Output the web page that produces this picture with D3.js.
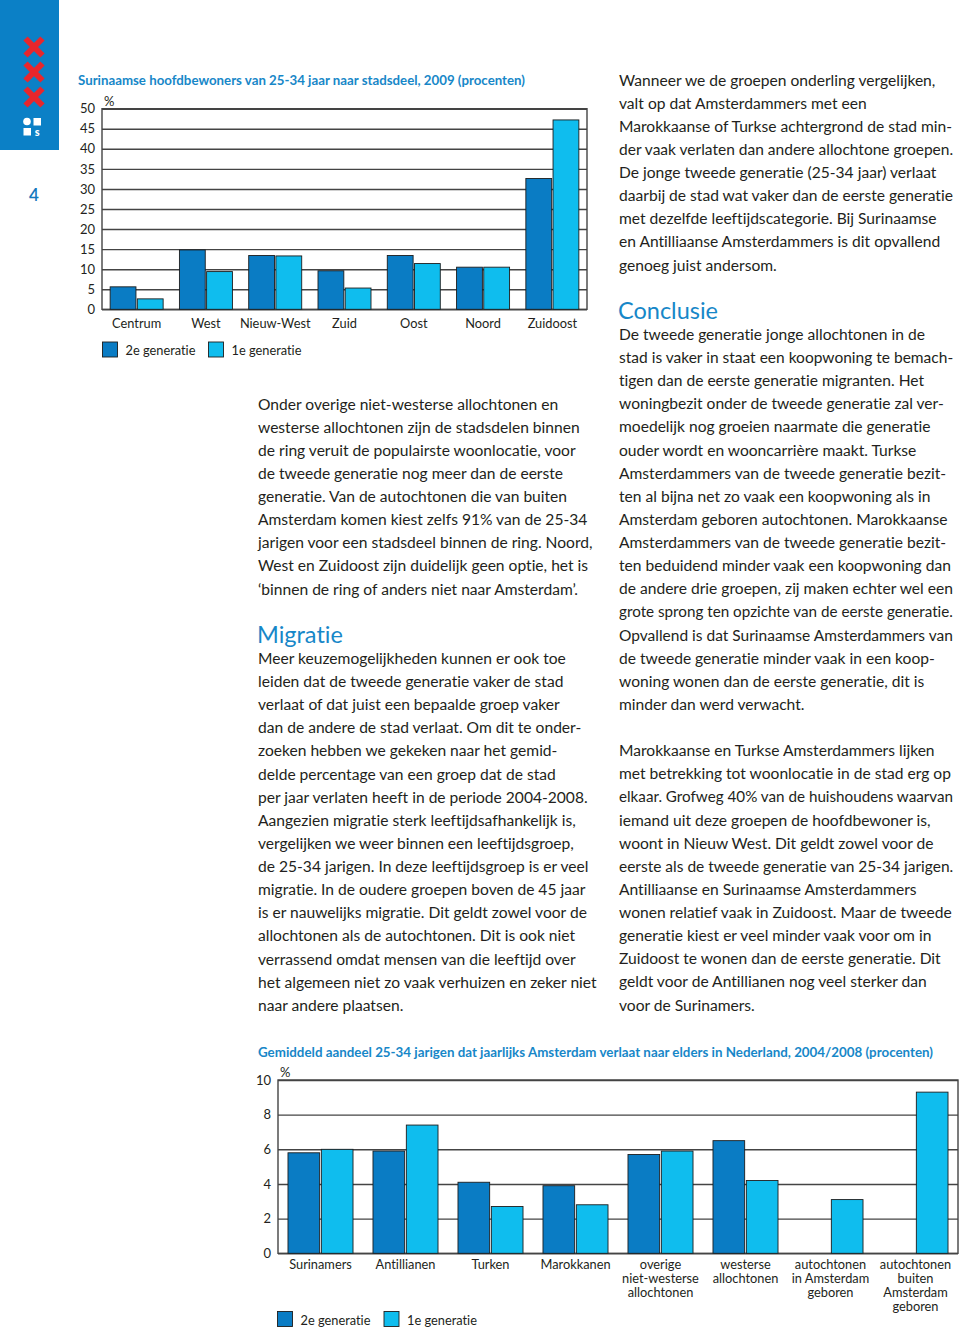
<!DOCTYPE html>
<html><head><meta charset="utf-8">
<script src="https://cdn.jsdelivr.net/npm/d3@7"></script>
<style>
html,body{margin:0;padding:0;background:#fff;}
svg{display:block;font-family:Lato,"Open Sans",sans-serif;font-variant-ligatures:none;font-feature-settings:"liga" 0,"clig" 0;}
</style></head>
<body>
<svg id="page" width="960" height="1329"></svg>
<script>
// ---------- DATA ----------
const series = ["2e generatie", "1e generatie"];

const districts = ["Centrum", "West", "Nieuw-West", "Zuid", "Oost", "Noord", "Zuidoost"];
const districtGen2 = [5.6, 14.8, 13.4, 9.6, 13.4, 10.5, 32.6];
const districtGen1 = [2.6, 9.4, 13.3, 5.3, 11.4, 10.5, 47.2];
const districtTicks = [0, 5, 10, 15, 20, 25, 30, 35, 40, 45, 50];

const groups = ["Surinamers", "Antillianen", "Turken", "Marokkanen",
  "overige\nniet-westerse\nallochtonen", "westerse\nallochtonen",
  "autochtonen\nin Amsterdam\ngeboren", "autochtonen\nbuiten\nAmsterdam\ngeboren"];
const groupGen2 = [5.8, 5.9, 4.1, 3.9, 5.7, 6.5, null, null];
const groupGen1 = [6.0, 7.4, 2.7, 2.8, 5.9, 4.2, 3.1, 9.3];
const groupTicks = [0, 2, 4, 6, 8, 10];

const title1 = "Surinaamse hoofdbewoners van 25-34 jaar naar stadsdeel, 2009 (procenten)";
const title2 = "Gemiddeld aandeel 25-34 jarigen dat jaarlijks Amsterdam verlaat naar elders in Nederland, 2004/2008 (procenten)";

const leftText = [
"Onder overige niet-westerse allochtonen en",
"westerse allochtonen zijn de stadsdelen binnen",
"de ring veruit de populairste woonlocatie, voor",
"de tweede generatie nog meer dan de eerste",
"generatie. Van de autochtonen die van buiten",
"Amsterdam komen kiest zelfs 91% van de 25-34",
"jarigen voor een stadsdeel binnen de ring. Noord,",
"West en Zuidoost zijn duidelijk geen optie, het is",
"‘binnen de ring of anders niet naar Amsterdam’.",
"",
"#Migratie",
"Meer keuzemogelijkheden kunnen er ook toe",
"leiden dat de tweede generatie vaker de stad",
"verlaat of dat juist een bepaalde groep vaker",
"dan de andere de stad verlaat. Om dit te onder-",
"zoeken hebben we gekeken naar het gemid-",
"delde percentage van een groep dat de stad",
"per jaar verlaten heeft in de periode 2004-2008.",
"Aangezien migratie sterk leeftijdsafhankelijk is,",
"vergelijken we weer binnen een leeftijdsgroep,",
"de 25-34 jarigen. In deze leeftijdsgroep is er veel",
"migratie. In de oudere groepen boven de 45 jaar",
"is er nauwelijks migratie. Dit geldt zowel voor de",
"allochtonen als de autochtonen. Dit is ook niet",
"verrassend omdat mensen van die leeftijd over",
"het algemeen niet zo vaak verhuizen en zeker niet",
"naar andere plaatsen."
];
const rightText = [
"Wanneer we de groepen onderling vergelijken,",
"valt op dat Amsterdammers met een",
"Marokkaanse of Turkse achtergrond de stad min-",
"der vaak verlaten dan andere allochtone groepen.",
"De jonge tweede generatie (25-34 jaar) verlaat",
"daarbij de stad wat vaker dan de eerste generatie",
"met dezelfde leeftijdscategorie. Bij Surinaamse",
"en Antilliaanse Amsterdammers is dit opvallend",
"genoeg juist andersom.",
"",
"#Conclusie",
"De tweede generatie jonge allochtonen in de",
"stad is vaker in staat een koopwoning te bemach-",
"tigen dan de eerste generatie migranten. Het",
"woningbezit onder de tweede generatie zal ver-",
"moedelijk nog groeien naarmate die generatie",
"ouder wordt en wooncarrière maakt. Turkse",
"Amsterdammers van de tweede generatie bezit-",
"ten al bijna net zo vaak een koopwoning als in",
"Amsterdam geboren autochtonen. Marokkaanse",
"Amsterdammers van de tweede generatie bezit-",
"ten beduidend minder vaak een koopwoning dan",
"de andere drie groepen, zij maken echter wel een",
"grote sprong ten opzichte van de eerste generatie.",
"Opvallend is dat Surinaamse Amsterdammers van",
"de tweede generatie minder vaak in een koop-",
"woning wonen dan de eerste generatie, dit is",
"minder dan werd verwacht.",
"",
"Marokkaanse en Turkse Amsterdammers lijken",
"met betrekking tot woonlocatie in de stad erg op",
"elkaar. Grofweg 40% van de huishoudens waarvan",
"iemand uit deze groepen de hoofdbewoner is,",
"woont in Nieuw West. Dit geldt zowel voor de",
"eerste als de tweede generatie van 25-34 jarigen.",
"Antilliaanse en Surinaamse Amsterdammers",
"wonen relatief vaak in Zuidoost. Maar de tweede",
"generatie kiest er veel minder vaak voor om in",
"Zuidoost te wonen dan de eerste generatie. Dit",
"geldt voor de Antillianen nog veel sterker dan",
"voor de Surinamers."
];

// ---------- STYLE ----------
const BLUE = "#1787c8";
const DARK = "#0a7cc4";
const LIGHT = "#0fbdee";
const TEXT = "#231f20";
const GRID = "#444";

const svg = d3.select("#page");

// ---------- SIDEBAR ----------
svg.append("rect").attr("x",0).attr("y",0).attr("width",59).attr("height",150).attr("fill","#0b80c6");
[47,72,97].forEach(cy=>{
  const g = svg.append("g").attr("transform",`translate(34,${cy})`);
  g.append("path").attr("d","M-8.5,-8.5L8.5,8.5M8.5,-8.5L-8.5,8.5").attr("stroke","#e8262c").attr("stroke-width",6).attr("stroke-linecap","butt");
});
svg.append("circle").attr("cx",27).attr("cy",121.5).attr("r",3.8).attr("fill","#fff");
svg.append("rect").attr("x",33.5).attr("y",118).attr("width",7.5).attr("height",7.5).attr("fill","#fff");
svg.append("rect").attr("x",23.5).attr("y",128).attr("width",7.5).attr("height",7.5).attr("fill","#fff");
svg.append("text").attr("x",37.3).attr("y",136).attr("text-anchor","middle").attr("fill","#fff")
  .attr("font-size",11).attr("font-weight",900).text("s");
svg.append("text").attr("x",34).attr("y",201).attr("text-anchor","middle").attr("fill","#1478bd")
  .attr("font-size",17).attr("font-weight",600).text("4");

// ---------- BODY TEXT ----------
function textColumn(lines, x, y0, step, maxW) {
  lines.forEach((ln,i)=>{
    if (!ln) return;
    const y = y0 + i*step;
    if (ln.startsWith("#")) {
      svg.append("text").attr("x",x-1).attr("y",y+7.5).attr("fill",BLUE)
        .attr("font-size",23.5).text(ln.slice(1));
    } else {
      const fs = 15.6;
      const t = svg.append("text").attr("x",x).attr("y",y+5.5).attr("fill",TEXT)
        .attr("font-size",fs).text(ln);
      const w = t.node().getComputedTextLength();
      if (w > maxW) t.attr("font-size", (fs*maxW/w).toFixed(2));
    }
  });
}
textColumn(leftText, 258, 404, 23.125, 340);
textColumn(rightText, 619, 80, 23.125, 334);

// ---------- CHART FUNCTION ----------
function barChart(cfg) {
  const g = svg.append("g");
  const x = d3.scaleBand().domain(cfg.cats).range([cfg.x0, cfg.x1]).paddingInner(0.235).paddingOuter(0.1175);
  const xs = d3.scaleBand().domain(series).range([0, x.bandwidth()]).paddingInner(0.05);
  const y = d3.scaleLinear().domain([0, cfg.max]).range([cfg.yb, cfg.yt]);

  // title
  g.append("text").attr("x",cfg.tx).attr("y",cfg.ty).attr("fill",BLUE).attr("font-size",12.5)
    .attr("font-weight",700).attr("textLength",cfg.tlen).attr("lengthAdjust","spacingAndGlyphs").text(cfg.title);
  // %
  g.append("text").attr("x",cfg.x0+2).attr("y",cfg.yt-3).attr("fill",TEXT).attr("font-size",13).text("%");

  // y axis with grid
  const ax = g.append("g").attr("transform",`translate(${cfg.x0},0)`)
    .call(d3.axisLeft(y).tickValues(cfg.ticks).tickSizeInner(-(cfg.x1-cfg.x0)).tickSizeOuter(0).tickPadding(7));
  ax.select(".domain").remove();
  ax.selectAll(".tick line").attr("stroke",GRID).attr("stroke-width",1.4);
  ax.selectAll(".tick text").attr("fill",TEXT).attr("font-size",13).attr("font-family","Lato, sans-serif");
  // frame
  g.append("rect").attr("x",cfg.x0).attr("y",cfg.yt).attr("width",cfg.x1-cfg.x0).attr("height",cfg.yb-cfg.yt)
    .attr("fill","none").attr("stroke",GRID).attr("stroke-width",1.4);

  // bars
  const rows = cfg.cats.map((c,i)=>({c, vals:[cfg.v2[i], cfg.v1[i]]}));
  const colors = [DARK, LIGHT];
  rows.forEach(r=>{
    r.vals.forEach((v,j)=>{
      if (v==null) return;
      g.append("rect").attr("x",x(r.c)+xs(series[j])).attr("y",y(v))
        .attr("width",xs.bandwidth()).attr("height",y(0)-y(v))
        .attr("fill",colors[j]).attr("stroke","#1d1d1d").attr("stroke-width",0.9);
    });
  });

  // category labels
  rows.forEach(r=>{
    const t = g.append("text").attr("x",x(r.c)+x.bandwidth()/2).attr("y",cfg.ly)
      .attr("text-anchor","middle").attr("fill",TEXT).attr("font-size",12.8);
    r.c.split("\n").forEach((s,k)=>{
      t.append("tspan").attr("x",x(r.c)+x.bandwidth()/2).attr("dy",k?14:0).text(s);
    });
  });

  // legend
  cfg.legend.forEach((lx,j)=>{
    g.append("rect").attr("x",lx).attr("y",cfg.legY).attr("width",15).attr("height",15)
      .attr("fill",colors[j]).attr("stroke","#1d1d1d").attr("stroke-width",0.9);
    g.append("text").attr("x",lx+cfg.legGap).attr("y",cfg.legY+13).attr("fill",TEXT)
      .attr("font-size",12.8).text(series[j]);
  });
}

barChart({
  cats: districts, v2: districtGen2, v1: districtGen1, ticks: districtTicks, max: 50,
  x0: 102, x1: 587, yt: 108.7, yb: 309.3,
  title: title1, tx: 78, ty: 85, tlen: 447,
  ly: 327.5, legend: [102.5, 208.5], legY: 342, legGap: 23
});
barChart({
  cats: groups, v2: groupGen2, v1: groupGen1, ticks: groupTicks, max: 10,
  x0: 278, x1: 958, yt: 1080, yb: 1253.3,
  title: title2, tx: 258, ty: 1057, tlen: 675,
  ly: 1268.5, legend: [277.5, 384], legY: 1311.5, legGap: 23
});
</script>
</body></html>
